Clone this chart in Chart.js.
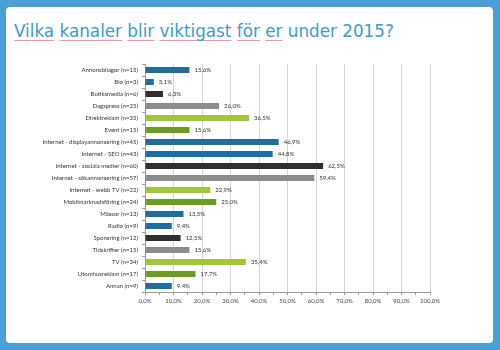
<!DOCTYPE html>
<html>
<head>
<meta charset="utf-8">
<script src="https://cdn.jsdelivr.net/npm/chart.js@4/dist/chart.umd.min.js"></script>
<style>
  html, body { margin: 0; padding: 0; }
  body { width: 500px; height: 350px; background: #4a9fd6; position: relative; overflow: hidden; }
  .card { position: absolute; left: 6px; top: 7px; width: 487px; height: 336px; background: #fff; border-radius: 4px; }
  h1 { position: absolute; left: 14px; top: 21px; margin: 0; font: normal 16.8px "DejaVu Sans", sans-serif; color: #3d9bc9; white-space: nowrap; }
  h1 u { text-decoration: underline; text-decoration-color: #e89aa0; text-underline-offset: 3px; }
  #chart { position: absolute; left: 0; top: 0; }
</style>
</head>
<body>
<div class="card"></div>
<h1><u>Vilka</u> <u>kanaler</u> <u>blir</u> <u>viktigast</u> <u>för</u> <u>er</u> under 2015?</h1>
<canvas id="chart" width="500" height="350"></canvas>
<script>
const categories = ['Annonsbilagor (n=15)', 'Bio (n=3)', 'Butiksmedia (n=6)', 'Dagspress (n=25)',
    'Direktreklam (n=35)', 'Event (n=15)', 'Internet - displayannonsering (n=45)', 'Internet - SEO (n=43)',
    'Internet - sociala medier (n=60)', 'Internet - sökannonsering (n=57)', 'Internet - webb TV (n=22)',
    'Mobilmarknadsföring (n=24)', 'Mässor (n=13)', 'Radio (n=9)', 'Sponsring (n=12)', 'Tidskrifter (n=15)',
    'TV (n=34)', 'Utomhusreklam (n=17)', 'Annan (n=9)'];
const shares = [15.6, 3.1, 6.3, 26.0, 36.5, 15.6, 46.9, 44.8, 62.5, 59.4, 22.9, 25.0, 13.5, 9.4, 12.5, 15.6, 35.4, 17.7, 9.4];
const palette = ['#1f6d9e', '#1f6d9e', '#2f2f2f', '#8c8c8c', '#a2c639', '#6b9b24'];
const barColors = categories.map((c, i) => palette[i % 6]);

const fmt = v => v.toFixed(1).replace('.', ',') + '%';

const valueLabels = {
    id: 'valueLabels',
    afterDatasetsDraw(chart) {
        const ctx = chart.ctx;
        ctx.save();
        ctx.font = '6px Lato, sans-serif';
        ctx.fillStyle = '#333';
        ctx.textBaseline = 'middle';
        chart.getDatasetMeta(0).data.forEach((bar, i) => {
            ctx.fillText(fmt(shares[i]), bar.x + 5, bar.y);
        });
        ctx.restore();
    }
};

new Chart(document.getElementById('chart'), {
    type: 'bar',
    data: {
        labels: categories,
        datasets: [{
            data: shares,
            backgroundColor: barColors,
            barPercentage: 0.5,
            categoryPercentage: 1
        }]
    },
    options: {
        indexAxis: 'y',
        responsive: false,
        animation: false,
        layout: { padding: { left: 0, right: 70, top: 64, bottom: 43 } },
        plugins: { legend: { display: false }, tooltip: { enabled: false } },
        scales: {
            x: {
                min: 0, max: 100,
                ticks: {
                    stepSize: 5,
                    autoSkip: false,
                    maxRotation: 0,
                    font: { size: 6, family: 'Lato' },
                    color: '#444',
                    padding: 2,
                    callback: v => v % 10 === 0 ? fmt(v) : ''
                },
                grid: {
                    color: c => (c.tick && c.tick.value % 10 === 0 && c.tick.value > 0) ? '#d6d6d6' : 'rgba(0,0,0,0)',
                    tickColor: '#999',
                    tickLength: 3
                },
                border: { color: '#999' },
                afterFit: s => { s.height = 15; }
            },
            y: {
                ticks: { font: { size: 6, family: 'Lato' }, color: '#333', padding: 4, autoSkip: false },
                grid: { drawOnChartArea: false, tickColor: '#999', tickLength: 3 },
                border: { color: '#999' },
                afterFit: s => { s.width = 145; }
            }
        }
    },
    plugins: [valueLabels]
});
</script>
</body>
</html>
